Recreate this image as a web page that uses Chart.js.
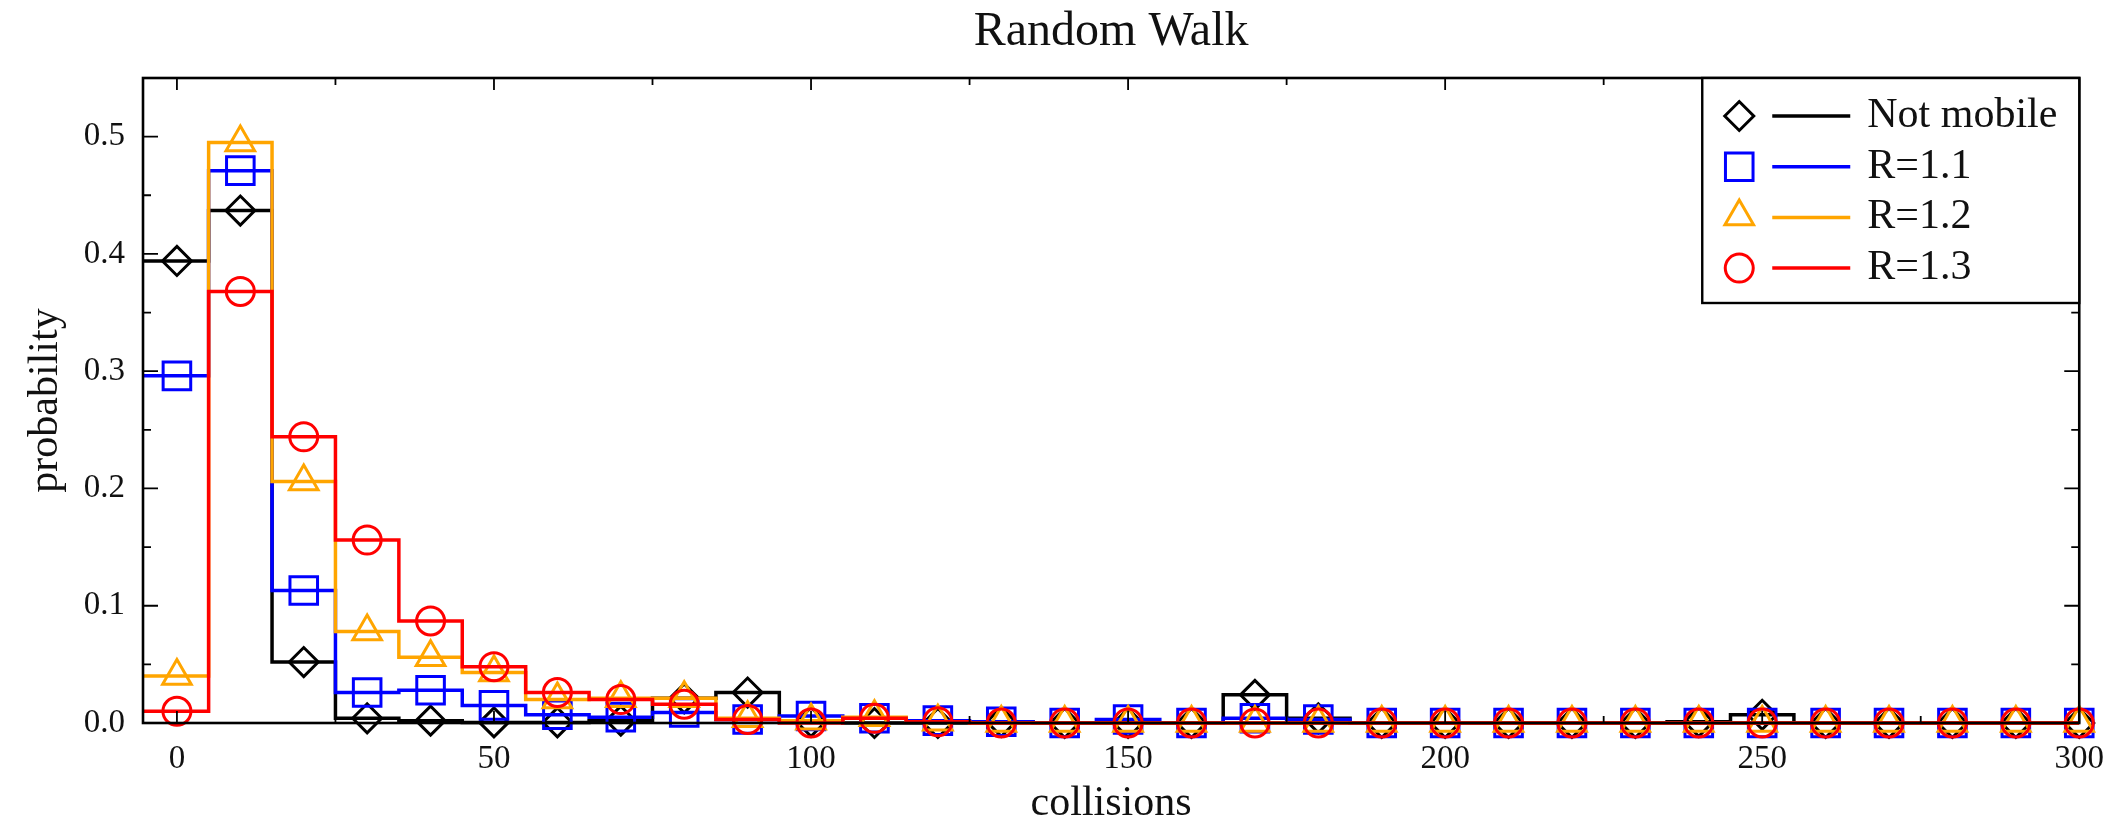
<!DOCTYPE html>
<html>
<head>
<meta charset="utf-8">
<script src="https://cdn.jsdelivr.net/npm/chart.js@4/dist/chart.umd.min.js"></script>
<style>
  html, body { margin: 0; padding: 0; background: #ffffff; }
  #wrap { width: 2121px; height: 819px; }
</style>
</head>
<body>
<div id="wrap"><canvas id="c" width="2121" height="819"></canvas></div>
<script>
// ---- data ----
const collisions = [0, 10, 20, 30, 40, 50, 60, 70, 80, 90, 100, 110, 120, 130, 140, 150,
                    160, 170, 180, 190, 200, 210, 220, 230, 240, 250, 260, 270, 280, 290, 300];
const notMobile = [0.394, 0.437, 0.052, 0.004, 0.002, 0.0005, 0.0005, 0.002, 0.021, 0.026, 0.001, 0, 0, 0.001, 0, 0,
                   0, 0.024, 0.004, 0, 0, 0, 0, 0, 0.001, 0.007, 0, 0, 0, 0, 0];
const r11 = [0.296, 0.471, 0.113, 0.026, 0.028, 0.015, 0.007, 0.005, 0.009, 0.003, 0.006, 0.004, 0.002, 0.001, 0, 0.003,
             0, 0.004, 0.003, 0, 0, 0, 0, 0, 0, 0, 0, 0, 0, 0, 0];
const r12 = [0.040, 0.495, 0.206, 0.078, 0.056, 0.043, 0.020, 0.021, 0.021, 0.004, 0.002, 0.005, 0.001, 0, 0, 0,
             0, 0, 0, 0, 0, 0, 0, 0, 0, 0, 0, 0, 0, 0, 0];
const r13 = [0.010, 0.368, 0.244, 0.156, 0.087, 0.048, 0.026, 0.020, 0.016, 0.003, 0, 0.004, 0.001, 0, 0, 0,
             0, 0, 0, 0, 0, 0, 0, 0, 0, 0, 0, 0, 0, 0, 0];
const seriesNames = ['Not mobile', 'R=1.1', 'R=1.2', 'R=1.3'];
const chartTitle = 'Random Walk';
const xTickValues = [0, 50, 100, 150, 200, 250, 300];
const xTickLabels = ['0', '50', '100', '150', '200', '250', '300'];
const yTickValues = [0, 0.1, 0.2, 0.3, 0.4, 0.5];
const yTickLabels = ['0.0', '0.1', '0.2', '0.3', '0.4', '0.5'];

// ---- styles ----
const seriesValues = [notMobile, r11, r12, r13];
const seriesColors = ['#000000', '#0000ff', '#ffa500', '#ff0000'];
const seriesMarkers = ['rectRot', 'rect', 'triangle', 'circle'];
const markerRadius = [14.5, 19.5, 16.5, 14];
const SERIF = '"Liberation Serif", "Times New Roman", serif';
const TEXT = '#111111';
const binHalf = (collisions[1] - collisions[0]) / 2;

const datasets = [];
seriesValues.forEach((vals, i) => {
  const pts = collisions.map((c, k) => ({ x: c, y: vals[k] }));
  const stepPts = [{ x: collisions[0] - 2 * binHalf, y: vals[0] }]
    .concat(pts)
    .concat([{ x: collisions[collisions.length - 1] + 2 * binHalf, y: vals[vals.length - 1] }]);
  const z = (seriesValues.length - 1 - i) * 2;
  datasets.push({
    label: seriesNames[i] + ' step',
    data: stepPts,
    stepped: 'middle',
    borderColor: seriesColors[i],
    borderWidth: 3.5,
    pointRadius: 0,
    fill: false,
    order: z + 1,
    clip: { left: 0, right: 0, top: false, bottom: false }
  });
  datasets.push({
    label: seriesNames[i],
    data: pts,
    showLine: false,
    borderColor: seriesColors[i],
    backgroundColor: 'rgba(0,0,0,0)',
    pointStyle: seriesMarkers[i],
    pointRadius: markerRadius[i],
    pointBorderWidth: 3,
    pointBorderColor: seriesColors[i],
    pointBackgroundColor: 'rgba(0,0,0,0)',
    order: z,
    clip: false
  });
});

function drawMarker(ctx, style, r, x, y) {
  if (Chart.helpers && Chart.helpers.drawPoint) {
    Chart.helpers.drawPoint(ctx, { pointStyle: style, radius: r, borderWidth: 3, rotation: 0 }, x, y);
    return;
  }
  ctx.beginPath();
  if (style === 'circle') ctx.arc(x, y, r, 0, Math.PI * 2);
  else if (style === 'rect') { const s = r * Math.SQRT1_2; ctx.rect(x - s, y - s, 2 * s, 2 * s); }
  else if (style === 'rectRot') { ctx.moveTo(x - r, y); ctx.lineTo(x, y - r); ctx.lineTo(x + r, y); ctx.lineTo(x, y + r); ctx.closePath(); }
  else if (style === 'triangle') { ctx.moveTo(x, y - r); ctx.lineTo(x + 0.866 * r, y + r / 2); ctx.lineTo(x - 0.866 * r, y + r / 2); ctx.closePath(); }
  ctx.stroke();
}

const framePlugin = {
  id: 'frame',
  afterDatasetsDraw(chart) {
    const { ctx, chartArea: a, scales: { x, y } } = chart;
    ctx.save();
    ctx.strokeStyle = '#000';
    ctx.lineWidth = 1.8;
    const xMinor = [];
    for (let i = 0; i < xTickValues.length - 1; i++) xMinor.push((xTickValues[i] + xTickValues[i + 1]) / 2);
    const drawX = (v, len) => {
      const px = x.getPixelForValue(v);
      ctx.beginPath();
      ctx.moveTo(px, a.bottom); ctx.lineTo(px, a.bottom - len);
      ctx.moveTo(px, a.top); ctx.lineTo(px, a.top + len);
      ctx.stroke();
    };
    xTickValues.forEach(v => drawX(v, 12));
    xMinor.forEach(v => drawX(v, 7));
    const yMinor = [];
    for (let i = 0; i < yTickValues.length - 1; i++) yMinor.push((yTickValues[i] + yTickValues[i + 1]) / 2);
    const drawY = (v, len) => {
      const py = y.getPixelForValue(v);
      ctx.beginPath();
      ctx.moveTo(a.left, py); ctx.lineTo(a.left + len, py);
      ctx.moveTo(a.right, py); ctx.lineTo(a.right - len, py);
      ctx.stroke();
    };
    yTickValues.forEach(v => drawY(v, 15));
    yMinor.forEach(v => drawY(v, 8));
    ctx.lineWidth = 2.6;
    ctx.strokeRect(a.left, a.top, a.right - a.left, a.bottom - a.top);
    // title centred over the plot area
    ctx.fillStyle = TEXT;
    ctx.font = '48px ' + SERIF;
    ctx.textAlign = 'center';
    ctx.textBaseline = 'middle';
    ctx.fillText(chartTitle, (a.left + a.right) / 2, 32);
    ctx.restore();
  }
};

const legendPlugin = {
  id: 'boxLegend',
  afterDraw(chart) {
    const { ctx, chartArea: a } = chart;
    const boxW = 377, boxH = 225;
    const bx = a.right - boxW, by = a.top;
    ctx.save();
    ctx.fillStyle = '#ffffff';
    ctx.fillRect(bx, by, boxW, boxH);
    ctx.strokeStyle = '#000';
    ctx.lineWidth = 2.4;
    ctx.strokeRect(bx, by, boxW, boxH);
    ctx.font = '42px ' + SERIF;
    ctx.textBaseline = 'middle';
    ctx.textAlign = 'left';
    seriesNames.forEach((name, i) => {
      const cy = by + 38 + i * 50.7;
      ctx.strokeStyle = seriesColors[i];
      ctx.fillStyle = 'rgba(0,0,0,0)';
      ctx.lineWidth = 3;
      const my = seriesMarkers[i] === 'triangle' ? cy - 1 : cy;
      drawMarker(ctx, seriesMarkers[i], markerRadius[i], bx + 37, my);
      ctx.beginPath();
      ctx.lineWidth = 3.5;
      ctx.moveTo(bx + 70, cy); ctx.lineTo(bx + 148, cy);
      ctx.stroke();
      ctx.fillStyle = TEXT;
      ctx.fillText(name, bx + 165, cy);
    });
    ctx.restore();
  }
};

new Chart(document.getElementById('c').getContext('2d'), {
  type: 'line',
  data: { datasets },
  options: {
    responsive: false,
    animation: false,
    events: [],
    layout: { padding: { left: 0, right: 37, top: 78, bottom: 0 } },
    plugins: {
      legend: { display: false },
      tooltip: { enabled: false },
      title: { display: false }
    },
    scales: {
      x: {
        type: 'linear',
        min: -5.35,
        max: 300,
        afterFit(s) { s.height = 96; },
        afterBuildTicks(s) { s.ticks = xTickValues.map(v => ({ value: v })); },
        grid: { display: false, drawTicks: false },
        border: { display: false },
        ticks: {
          autoSkip: false, maxRotation: 0, padding: 17, color: TEXT,
          font: { family: SERIF, size: 33 },
          callback: (v, idx) => xTickLabels[idx]
        },
        title: {
          display: true, text: 'collisions', color: TEXT,
          font: { family: SERIF, size: 42, lineHeight: 0.72 },
          padding: { top: 0, bottom: 0 }
        }
      },
      y: {
        type: 'linear',
        min: 0,
        max: 0.55,
        afterFit(s) { s.width = 143; },
        afterBuildTicks(s) { s.ticks = yTickValues.map(v => ({ value: v })); },
        grid: { display: false, drawTicks: false },
        border: { display: false },
        ticks: {
          autoSkip: false, padding: 18, color: TEXT,
          font: { family: SERIF, size: 33 },
          callback: (v, idx) => yTickLabels[idx]
        },
        title: {
          display: true, text: 'probability', color: TEXT,
          font: { family: SERIF, size: 42, lineHeight: 1.2 },
          padding: { top: 21, bottom: 0 }
        }
      }
    }
  },
  plugins: [framePlugin, legendPlugin]
});
</script>
</body>
</html>
